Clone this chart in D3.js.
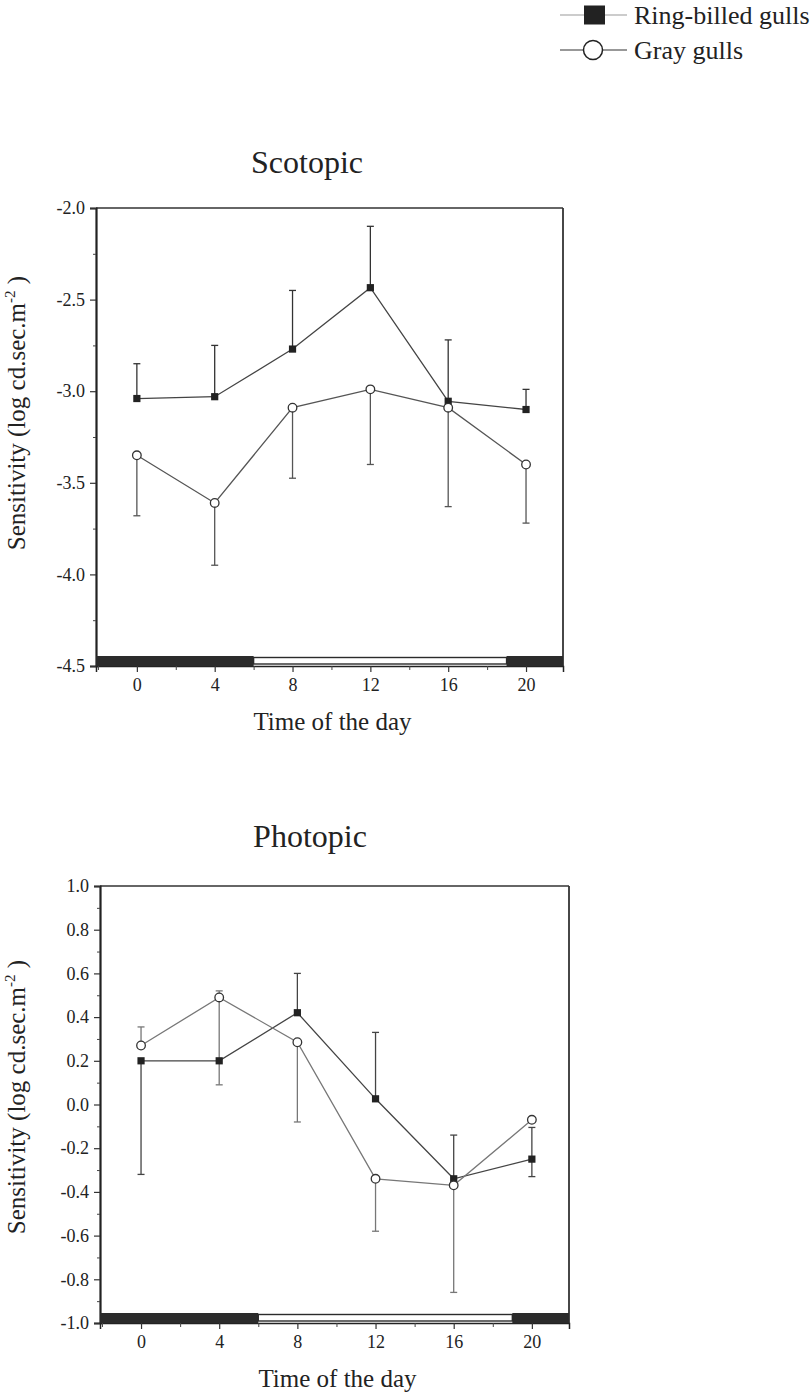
<!DOCTYPE html>
<html>
<head>
<meta charset="utf-8">
<script src="https://cdn.jsdelivr.net/npm/d3@7"></script>
<style>
  body { margin: 0; background: #fff; }
  svg { display: block; }
  text { font-family: "Liberation Serif", "Times New Roman", serif; fill: #222; }
</style>
</head>
<body>
<svg id="chart" width="812" height="1399" font-family="Liberation Serif"></svg>
<script>
// Time of day (h) at which sensitivity was measured
const hours = [0, 4, 8, 12, 16, 20];
const xTicksMajor = [0, 4, 8, 12, 16, 20];
const xTicksMinor = [-2, 2, 6, 10, 14, 18];
// Light phase of the photoperiod (white segment of the bar)
const lightStart = 6;
const lightEnd = 19;

// Scotopic sensitivity (log cd.sec.m^-2)
const scotYTicks = [-2.0, -2.5, -3.0, -3.5, -4.0, -4.5];
const scotYMinor = [-2.25, -2.75, -3.25, -3.75, -4.25];
const scotRing     = [-3.04, -3.03, -2.77, -2.435, -3.055, -3.10];
const scotRingUp   = [-2.85, -2.75, -2.45, -2.10, -2.72, -2.99];
const scotRingDown = [null, null, null, null, null, null];
const scotGray     = [-3.35, -3.61, -3.09, -2.99, -3.09, -3.40];
const scotGrayUp   = [null, null, null, null, null, null];
const scotGrayDown = [-3.68, -3.95, -3.475, -3.40, -3.63, -3.72];

// Photopic sensitivity (log cd.sec.m^-2)
const photYTicks = [1.0, 0.8, 0.6, 0.4, 0.2, 0.0, -0.2, -0.4, -0.6, -0.8, -1.0];
const photYMinor = [0.9, 0.7, 0.5, 0.3, 0.1, -0.1, -0.3, -0.5, -0.7, -0.9];
const photRing     = [0.20, 0.20, 0.42, 0.026, -0.34, -0.25];
const photRingUp   = [null, null, 0.60, 0.33, -0.14, -0.105];
const photRingDown = [-0.32, null, null, null, null, -0.33];
const photGray     = [0.27, 0.49, 0.285, -0.34, -0.37, -0.07];
const photGrayUp   = [0.355, 0.52, null, null, null, null];
const photGrayDown = [null, 0.09, -0.08, -0.58, -0.86, null];

const SERIF = "Liberation Serif";
const svg = d3.select("#chart");
const fmt = d => d.toFixed(1);

function drawPanel(cfg) {
  const g = svg.append("g");
  const x = d3.scaleLinear().domain([-2.1, 21.9]).range(cfg.xRange);
  const y = d3.scaleLinear().domain(cfg.yDomain).range(cfg.yRange);
  const [left, right] = cfg.xRange;
  const [top, bottom] = cfg.yRange;

  // title
  g.append("text")
    .attr("x", cfg.titleX).attr("y", cfg.titleY)
    .attr("text-anchor", "middle")
    .attr("font-family", SERIF)
    .attr("font-size", 32)
    .text(cfg.title);

  // frame: top and right edges
  g.append("line").attr("x1", left).attr("x2", right).attr("y1", top).attr("y2", top)
    .attr("stroke", "#333").attr("stroke-width", 1.5);
  g.append("line").attr("x1", right).attr("x2", right).attr("y1", top).attr("y2", bottom)
    .attr("stroke", "#333").attr("stroke-width", 1.8);

  // y axis
  const yAxis = g.append("g").attr("transform", `translate(${left},0)`)
    .call(d3.axisLeft(y).tickValues(cfg.yTicks).tickSize(6).tickPadding(5).tickFormat(fmt))
    .attr("font-family", SERIF).attr("font-size", 18);
  yAxis.select(".domain").attr("stroke", "#222").attr("stroke-width", 2.2);
  yAxis.selectAll(".tick line").attr("stroke", "#333").attr("stroke-width", 1.2);
  yAxis.selectAll(".tick text").attr("fill", "#222");
  const yMinor = g.append("g").attr("transform", `translate(${left},0)`)
    .call(d3.axisLeft(y).tickValues(cfg.yMinor).tickSize(3).tickFormat(""));
  yMinor.select(".domain").remove();
  yMinor.selectAll(".tick line").attr("stroke", "#444");

  // x axis
  const xAxis = g.append("g").attr("transform", `translate(0,${bottom})`)
    .call(d3.axisBottom(x).tickValues(xTicksMajor).tickSize(6).tickPadding(6).tickFormat(d => d))
    .attr("font-family", SERIF).attr("font-size", 18);
  xAxis.select(".domain").attr("stroke", "#222").attr("stroke-width", 1.5);
  xAxis.selectAll(".tick line").attr("stroke", "#333").attr("stroke-width", 1.2);
  xAxis.selectAll(".tick text").attr("fill", "#222");
  const xMinor = g.append("g").attr("transform", `translate(0,${bottom})`)
    .call(d3.axisBottom(x).tickValues(xTicksMinor).tickSize(4).tickFormat(""));
  xMinor.select(".domain").remove();
  xMinor.selectAll(".tick line").attr("stroke", "#444");

  // light/dark bar along the time axis
  const barH = 10;
  g.append("rect").attr("x", left).attr("y", bottom - barH)
    .attr("width", x(lightStart) - left).attr("height", barH).attr("fill", "#2b2b2b");
  g.append("rect").attr("x", x(lightEnd)).attr("y", bottom - barH)
    .attr("width", right - x(lightEnd)).attr("height", barH).attr("fill", "#2b2b2b");
  g.append("rect").attr("x", x(lightStart)).attr("y", bottom - barH + 1.5)
    .attr("width", x(lightEnd) - x(lightStart)).attr("height", barH - 3.5)
    .attr("fill", "#fff").attr("stroke", "#2b2b2b").attr("stroke-width", 1.4);

  // axis titles
  g.append("text")
    .attr("x", (left + right) / 2 + 3).attr("y", bottom + 64)
    .attr("text-anchor", "middle")
    .attr("font-family", SERIF)
    .attr("font-size", 25)
    .text("Time of the day");
  const yl = g.append("text")
    .attr("transform", `translate(25,${cfg.yLabelY}) rotate(-90)`)
    .attr("text-anchor", "middle")
    .attr("font-family", SERIF)
    .attr("font-size", 25)
    .attr("fill", "#444");
  yl.append("tspan").text("Sensitivity (log cd.sec.m");
  yl.append("tspan").attr("dy", -10).attr("font-size", 15).text("-2");
  yl.append("tspan").attr("dy", 10).text(" )");

  const line = d3.line().x((d, i) => x(hours[i])).y(d => y(d));
  const cap = 3.5;

  cfg.series.forEach(s => {
    g.append("path").datum(s.values).attr("d", line)
      .attr("fill", "none").attr("stroke", s.lineColor).attr("stroke-width", 1.3);
  });

  cfg.series.forEach(s => {
    s.values.forEach((v, i) => {
      [s.up[i], s.down[i]].forEach(e => {
        if (e === null) return;
        const cx = x(hours[i]);
        g.append("line").attr("x1", cx).attr("x2", cx).attr("y1", y(v)).attr("y2", y(e))
          .attr("stroke", s.errColor).attr("stroke-width", 1.3);
        g.append("line").attr("x1", cx - cap).attr("x2", cx + cap).attr("y1", y(e)).attr("y2", y(e))
          .attr("stroke", s.errColor).attr("stroke-width", 1.3);
      });
    });
  });

  cfg.series.forEach(s => {
    const pts = g.append("g");
    s.values.forEach((v, i) => {
      const cx = x(hours[i]), cy = y(v);
      if (s.marker === "square") {
        pts.append("rect").attr("x", cx - 3.6).attr("y", cy - 3.6)
          .attr("width", 7.2).attr("height", 7.2).attr("fill", "#222");
      } else {
        pts.append("circle").attr("cx", cx).attr("cy", cy).attr("r", 4.3)
          .attr("fill", "#fff").attr("stroke", "#333").attr("stroke-width", 1.3);
      }
    });
  });
}

drawPanel({
  title: "Scotopic", titleX: 307, titleY: 173,
  xRange: [96, 563], yRange: [208, 666], yDomain: [-2.0, -4.5],
  yTicks: scotYTicks, yMinor: scotYMinor, yLabelY: 413,
  series: [
    { values: scotRing, up: scotRingUp, down: scotRingDown, marker: "square", lineColor: "#444", errColor: "#333" },
    { values: scotGray, up: scotGrayUp, down: scotGrayDown, marker: "circle", lineColor: "#555", errColor: "#555" }
  ]
});

drawPanel({
  title: "Photopic", titleX: 310, titleY: 847,
  xRange: [100, 569], yRange: [886, 1323], yDomain: [1.0, -1.0],
  yTicks: photYTicks, yMinor: photYMinor, yLabelY: 1097,
  series: [
    { values: photRing, up: photRingUp, down: photRingDown, marker: "square", lineColor: "#444", errColor: "#444" },
    { values: photGray, up: photGrayUp, down: photGrayDown, marker: "circle", lineColor: "#777", errColor: "#777" }
  ]
});

// legend
const legend = svg.append("g");
const legendItems = [
  { label: "Ring-billed gulls", marker: "square", y: 15, lineColor: "#999" },
  { label: "Gray gulls", marker: "circle", y: 50, lineColor: "#333" }
];
legendItems.forEach(it => {
  legend.append("line").attr("x1", 560).attr("x2", 627).attr("y1", it.y).attr("y2", it.y)
    .attr("stroke", it.lineColor).attr("stroke-width", 1.2);
  if (it.marker === "square") {
    legend.append("rect").attr("x", 584).attr("y", it.y - 9.5).attr("width", 21).attr("height", 19).attr("fill", "#222");
  } else {
    legend.append("circle").attr("cx", 593).attr("cy", it.y).attr("r", 9.5)
      .attr("fill", "#fff").attr("stroke", "#222").attr("stroke-width", 1.5);
  }
  legend.append("text").attr("x", 634).attr("y", it.y + 9)
    .attr("font-family", SERIF)
    .attr("font-size", 26).text(it.label);
});
</script>
</body>
</html>
